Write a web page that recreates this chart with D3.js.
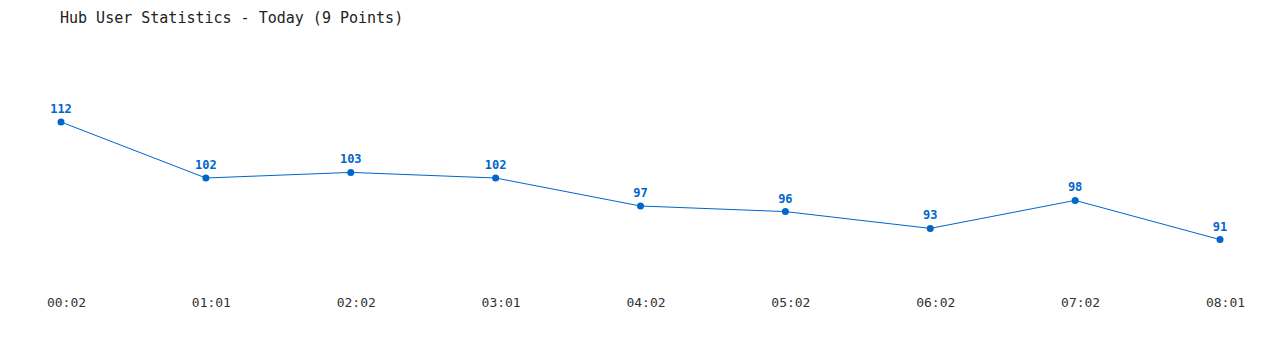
<!DOCTYPE html>
<html><head><meta charset="utf-8">
<script src="https://cdn.jsdelivr.net/npm/d3@7"></script>
<style>body{margin:0;background:#fff}svg{display:block}</style>
</head><body>
<script>
const categories = ["00:02","01:01","02:02","03:01","04:02","05:02","06:02","07:02","08:01"];
const values = [112,102,103,102,97,96,93,98,91];
const title = "Hub User Statistics - Today (9 Points)";

const W=1280,H=350;
const svg=d3.select("body").append("svg").attr("width",W).attr("height",H);
const font="'DejaVu Sans Mono', 'Liberation Mono', monospace";

const x=d3.scalePoint().domain(categories).range([61,1220]);
const y=d3.scaleLinear().domain([91,112]).range([239.6,122]);

svg.append("text").attr("x",60).attr("y",23).attr("font-family",font).attr("font-size",15)
  .attr("fill","#222").text(title);

const line=d3.line().x((d,i)=>x(categories[i])).y(d=>y(d));
svg.append("path").datum(values).attr("d",line).attr("fill","none").attr("stroke","#0066cc").attr("stroke-width",1);

svg.selectAll("circle.pt").data(values).enter().append("circle")
  .attr("cx",(d,i)=>x(categories[i])).attr("cy",d=>y(d)).attr("r",3.5).attr("fill","#0066cc");

svg.selectAll("text.lbl").data(values).enter().append("text")
  .attr("x",(d,i)=>x(categories[i])).attr("y",d=>y(d)-9)
  .attr("text-anchor","middle").attr("font-family",font).attr("font-size",12).attr("font-weight","bold")
  .attr("fill","#0066cc").text(d=>d);

const axis=d3.axisBottom(x).tickSize(0).tickPadding(0);
const g=svg.append("g").attr("transform","translate(5,298)").call(axis);
g.select(".domain").remove();
g.selectAll("text").attr("font-family",font).attr("font-size",13).attr("fill","#333");
</script>
</body></html>
